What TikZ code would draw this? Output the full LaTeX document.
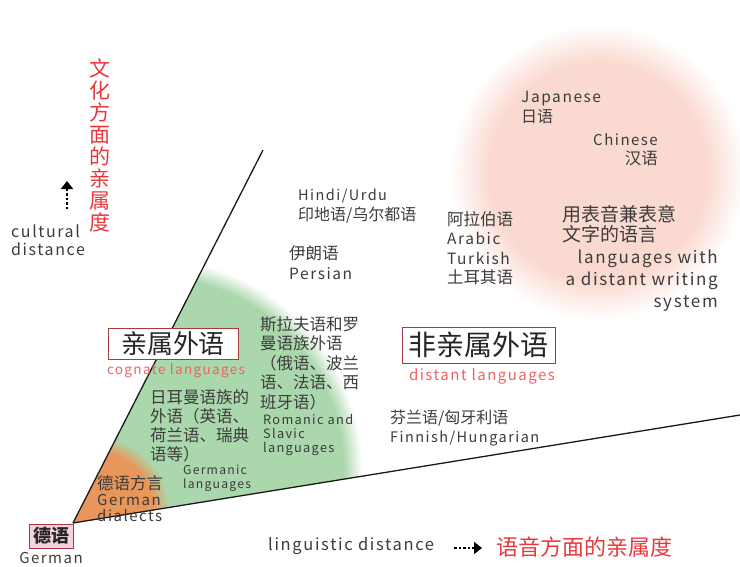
\documentclass[tikz,border=0pt]{standalone}
\usepackage{fontspec}
\setmainfont{Noto Sans CJK SC}
\newfontfamily\en[LetterSpace=10]{Noto Sans CJK SC}
\usetikzlibrary{arrows.meta}
\definecolor{gtext}{HTML}{3C3C3C}
\definecolor{redtxt}{HTML}{E8383D}
\definecolor{pinkred}{HTML}{F06262}
\definecolor{boxred}{HTML}{A8393E}
\definecolor{mygreen}{HTML}{ABD7AC}
\definecolor{myorange}{HTML}{E9965B}
\definecolor{mypink}{HTML}{FADAD0}
\definecolor{boxpink}{HTML}{F3D2E2}
\pgfdeclareradialshading{greenfade}{\pgfpoint{0bp}{0bp}}{color(0bp)=(mygreen); color(22.8bp)=(mygreen); color(25bp)=(white); color(50bp)=(white)}
\pgfdeclareradialshading{orangefade}{\pgfpoint{0bp}{0bp}}{color(0bp)=(myorange); color(19.5bp)=(myorange); color(25bp)=(mygreen); color(50bp)=(mygreen)}
\pgfdeclareradialshading{pinkfade}{\pgfpoint{0bp}{0bp}}{color(0bp)=(mypink); color(18.5bp)=(mypink); color(25bp)=(white); color(50bp)=(white)}
\newcommand\fsz[2]{\fontsize{#1}{#2}\selectfont}
\tikzset{
  lbl/.style={inner sep=0pt, text=gtext, align=left, anchor=north west},
  rlbl/.style={inner sep=0pt, text=gtext, align=right, anchor=north east},
  bigbox/.style={draw=boxred, line width=1pt, fill=white, inner sep=0pt, text=black!85},
  axisline/.style={line width=1.3pt, black!90},
  dotarrow/.style={line width=2.8pt, dash pattern=on 2.5pt off 2pt, -{Triangle[length=8pt,width=12pt]}}
}
\begin{document}
\begin{tikzpicture}[x=1pt,y=-1pt]
\useasboundingbox (0,0) rectangle (740,566);
\coordinate (O) at (73,523);
\coordinate (U) at (263,150);
\coordinate (L) at (740,415);
% shaded regions
\begin{scope}
  \clip (O) -- (U) -- (740,150) -- (L) -- cycle;
  \shade[shading=greenfade] (150,470) circle (212);
  \shade[shading=orangefade] (95,510) circle (74);
\end{scope}
\shade[shading=pinkfade] (598,172) circle (148);
% axes
\draw[axisline] (O) -- (U);
\draw[axisline] (O) -- (L);
% vertical cultural label
\node[inner sep=0pt, anchor=north, align=center, text=redtxt, font=\fsz{21}{22}] (vt) at (100,59) {文\\化\\方\\面\\的\\亲\\属\\度};
\coordinate (ua1) at (67,209);
\coordinate (ua2) at (67,181);
\draw[dotarrow] (ua1) -- (ua2);
\node[lbl, font=\en\fsz{16}{18}] (cd) at (11,225) {cultural\\distance};
% cognate box
\node[bigbox, minimum width=130pt, minimum height=31pt, font=\fsz{26}{26}] (cog) at (173,343.5) {亲属外语};
\node[inner sep=0pt, text=pinkred, font=\en\fsz{13.5}{16}] (cogE) at (176,371) {cognate languages};
\node[lbl, font=\fsz{16.5}{19}] (germ) at (150,389) {日耳曼语族的\\外语（英语、\\荷兰语、瑞典\\语等）};
\node[lbl, font=\en\fsz{12.2}{13.5}] (germE) at (183,465) {Germanic\\languages};
\node[lbl, font=\fsz{16.5}{16}] (dial) at (97,475) {德语方言\\{\en\fsz{15}{16}German}\\{\en\fsz{15}{16}dialects}};
\node[draw=boxred, line width=1pt, fill=boxpink, minimum width=44pt, minimum height=24pt, inner sep=0pt, text=black!85, font=\bfseries\fsz{18}{18}] (de) at (51,536) {德语};
\node[inner sep=0pt, text=gtext, font=\en\fsz{15}{16}] (deE) at (51,557.5) {German};
\node[lbl, font=\fsz{16.5}{19.5}] (slav) at (260,316) {斯拉夫语和罗\\曼语族外语\\（俄语、波兰\\语、法语、西\\班牙语）};
\node[lbl, font=\en\fsz{12.8}{14}] (slavE) at (263,414) {Romanic and\\Slavic\\languages};
% distant
\node[lbl, font=\fsz{16}{19.5}] (hindi) at (298,189) {{\en\fsz{14.5}{19.5}Hindi/Urdu}\\印地语/乌尔都语};
\node[lbl, font=\fsz{16.5}{20}] (pers) at (289,245) {伊朗语\\{\en\fsz{15.5}{20}Persian}};
\node[lbl, font=\fsz{16.5}{19.5}] (arab) at (447,211) {阿拉伯语\\{\en\fsz{15.5}{19.5}Arabic}\\{\en\fsz{15.5}{19.5}Turkish}\\土耳其语};
\node[bigbox, minimum width=153pt, minimum height=36pt, font=\fsz{28}{28}] (dist) at (478.5,345) {非亲属外语};
\node[inner sep=0pt, text=pinkred, font=\en\fsz{15}{18}] (distE) at (482,376) {distant languages};
\node[lbl, font=\fsz{16}{18.5}] (finn) at (390,410) {芬兰语/匈牙利语\\{\en\fsz{14.5}{18.5}Finnish/Hungarian}};
\node[lbl, font=\fsz{16}{20}] (jap) at (521,91) {{\en\fsz{15.5}{20}Japanese}\\日语};
\node[rlbl, font=\fsz{16.5}{19.5}] (chi) at (658,133) {{\en\fsz{15}{19.5}Chinese}\\汉语};
\node[lbl, font=\fsz{19}{20.5}] (writ) at (562,205) {用表音兼表意\\文字的语言};
\node[rlbl, font=\en\fsz{17}{22}] (writE) at (718,250) {languages with\\a distant writing\\system};
% bottom axis label
\node[inner sep=0pt, anchor=west, text=gtext, font=\en\fsz{16.5}{18}] (ling) at (268,546) {linguistic distance};
\coordinate (ra1) at (454,548);
\coordinate (ra2) at (482,548);
\draw[dotarrow] (ra1) -- (ra2);
\node[inner sep=0pt, anchor=west, text=redtxt, font=\fsz{22}{22}] (lingZ) at (496,547) {语音方面的亲属度};
\end{tikzpicture}
\end{document}
